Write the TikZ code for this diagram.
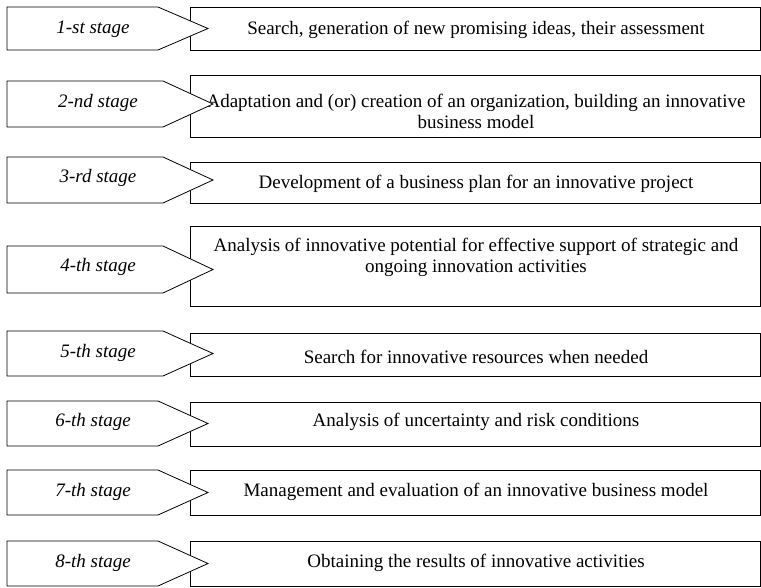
\documentclass[tikz,border=0pt]{standalone}
\usepackage{fontspec}
\setmainfont{Liberation Serif}
\begin{document}
\begin{tikzpicture}[x=1pt, y=-1pt, line width=0.8pt,
    stagetext/.style={font=\fontsize{19}{21}\selectfont\itshape, yshift=-2.5pt},
    boxtext/.style={font=\fontsize{19}{21}\selectfont, align=center, yshift=-2.5pt}]
  \useasboundingbox (0,0) rectangle (761,587);
  \foreach \n/\suf/\pt/\pb/\br/\rt/\rb/\ty/\sy/\lab in {
      1/st/7/50/158/7/50/27/27/{Search, generation of new promising ideas, their assessment},
      2/nd/81/127/163/75/137/109/100/{Adaptation and (or) creation of an organization, building an innovative\\business model},
      3/rd/157/203/163/162/203/181/175/{Development of a business plan for an innovative project},
      4/th/246/293/163/226/306/255/264/{Analysis of innovative potential for effective support of strategic and\\ongoing innovation activities},
      5/th/331/376/163/333/376/354/350/{Search for innovative resources when needed},
      6/th/401/446/158/402/446/419/419/{Analysis of uncertainty and risk conditions},
      7/th/470/515/158/470/515/489/489/{Management and evaluation of an innovative business model},
      8/th/541/586/158/541/586/560/560/{Obtaining the results of innovative activities}}{
    % box on the right
    \draw (190,\rt) rectangle (760,\rb);
    \node[boxtext] (box\n) at (476,\ty) {\lab};
    % stage arrow, drawn over the box
    \coordinate (tip\n) at ({\br+50},{(\pt+\pb)/2});
    \draw[fill=white] (7,\pt) -- (\br,\pt) -- (tip\n) -- (\br,\pb) -- (7,\pb) -- cycle;
    \node[stagetext] (stage\n) at ({\br-65},\sy) {\n-\suf{} stage};
  }
\end{tikzpicture}
\end{document}
